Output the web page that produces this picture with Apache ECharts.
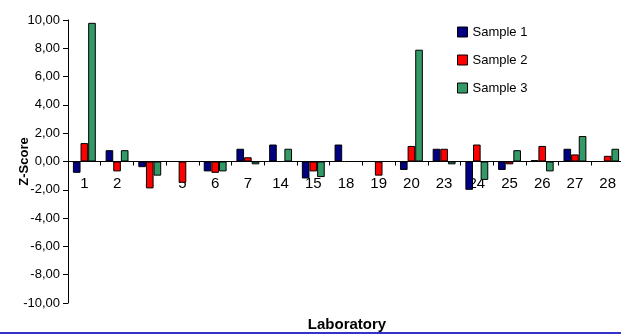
<!DOCTYPE html>
<html>
<head>
<meta charset="utf-8">
<script src="https://cdn.jsdelivr.net/npm/echarts@6/dist/echarts.min.js"></script>
<style>
html,body{margin:0;padding:0;background:#fff;}
#c{width:621px;height:334px;}
</style>
</head>
<body>
<div id="c"></div>
<script>
var categories = ['1','2','4','5','6','7','14','15','18','19','20','23','24','25','26','27','28'];
var sample1 = [-0.8, 0.8, -0.4, null, -0.7, 0.9, 1.2, -1.2, 1.2, null, -0.6, 0.9, -2.0, -0.6, 0.1, 0.9, null];
var sample2 = [1.3, -0.7, -1.9, -1.5, -0.8, 0.3, null, -0.7, null, -1.0, 1.1, 0.9, 1.2, -0.2, 1.1, 0.5, 0.4];
var sample3 = [9.8, 0.8, -1.0, null, -0.7, -0.2, 0.9, -1.1, null, null, 7.9, -0.2, -1.3, 0.8, -0.7, 1.8, 0.9];
var seriesNames = ['Sample 1', 'Sample 2', 'Sample 3'];
var yMin = -10, yMax = 10, yStep = 2;

var font = 'Liberation Sans, Arial, sans-serif';
var chart = echarts.init(document.getElementById('c'), null, {renderer: 'canvas'});
var colors = ['#000080', '#ff0000', '#339966'];
var gridTop = 20, gridHeight = 283;
function mk(name, data, i) {
  return {
    name: name, type: 'bar', data: data,
    barGap: '0%', barCategoryGap: '30%',
    itemStyle: {color: colors[i], borderColor: '#000', borderWidth: 1},
    animation: false
  };
}
chart.setOption({
  animation: false,
  textStyle: {fontFamily: font},
  grid: {left: 68, top: gridTop, width: 556, height: gridHeight, containLabel: false, outerBoundsMode: 'none'},
  legend: {
    orient: 'vertical', left: 452, top: 20,
    icon: 'rect',
    itemWidth: 10, itemHeight: 10, itemGap: 14,
    textStyle: {fontSize: 13, color: '#000', fontFamily: font, lineHeight: 14},
    data: seriesNames.map(function(n, i){ return {name: n, itemStyle: {color: colors[i], borderColor: '#000', borderWidth: 1}}; })
  },
  xAxis: {
    type: 'category', data: categories,
    offset: -(gridHeight * (yMax) / (yMax - yMin)),
    axisLine: {onZero: false, lineStyle: {color: '#000', width: 1}},
    axisTick: {show: true, length: 4, lineStyle: {color: '#000'}},
    axisLabel: {fontSize: 15, color: '#000', margin: 15, interval: 0},
    splitLine: {show: false}
  },
  yAxis: {
    type: 'value', min: yMin, max: yMax, interval: yStep,
    name: 'Z-Score', nameLocation: 'middle', nameGap: 37, nameMoveOverlap: false,
    nameTextStyle: {fontSize: 13, fontWeight: 'bold', color: '#000', fontFamily: font},
    axisLine: {show: true, lineStyle: {color: '#000', width: 1}},
    axisTick: {show: true, length: 5, lineStyle: {color: '#000'}},
    axisLabel: {fontSize: 13, color: '#000', margin: 8, formatter: function(v){ return v.toFixed(2).replace('.', ','); }},
    splitLine: {show: false}
  },
  title: {
    text: 'Laboratory', left: 342, top: 312, textAlign: 'center',
    textStyle: {fontSize: 15, fontWeight: 'bold', color: '#000', fontFamily: font}
  },
  graphic: [{
    type: 'rect', left: 0, bottom: 0, shape: {width: 621, height: 2},
    style: {fill: '#3333cc'}
  }],
  series: [mk(seriesNames[0], sample1, 0), mk(seriesNames[1], sample2, 1), mk(seriesNames[2], sample3, 2)]
});
</script>
</body>
</html>
